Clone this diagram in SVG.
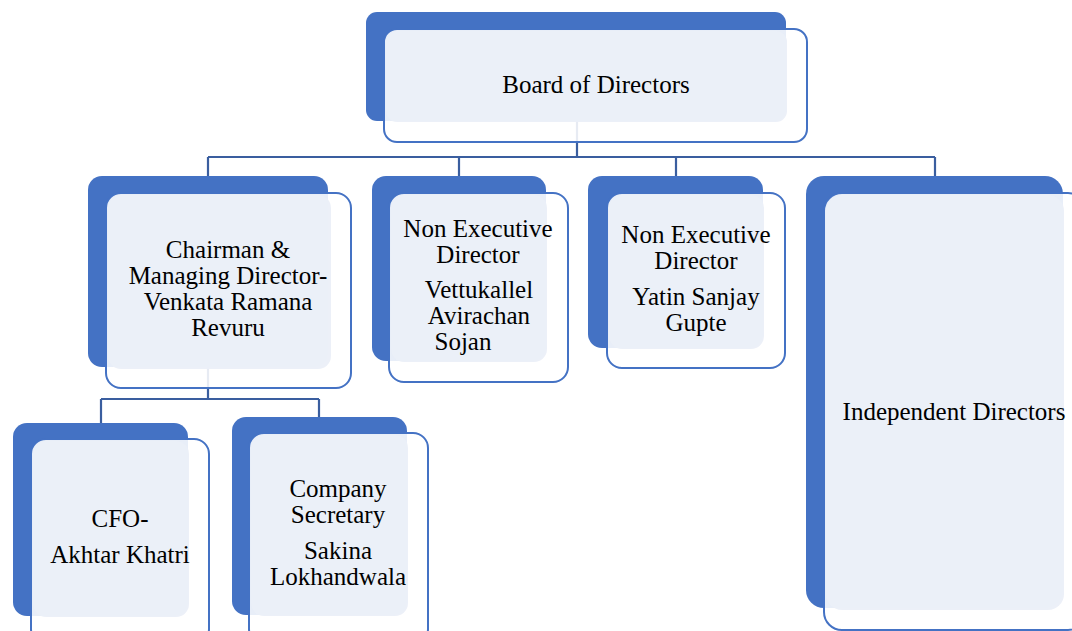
<svg xmlns="http://www.w3.org/2000/svg" width="1072" height="631" viewBox="0 0 1072 631">
<style>
.back{fill:#4472C4}
.front{fill:#FFFFFF;fill-opacity:0.88;stroke:#4472C4;stroke-width:2}
.lite{fill:#EBEFF8;fill-opacity:0.95}
.conn{fill:none;stroke:#3A5E9F;stroke-width:2.2}
text{font-family:"Liberation Serif","Times New Roman",serif;font-size:25px;fill:#000;text-anchor:middle}
</style>
<rect width="1072" height="631" fill="#FFFFFF"/>
<g id="connectors">
<path class="conn" d="M577,121 V157 M208,157 H935 M208,157 V176 M459,157 V176 M676,157 V176 M935,157 V176"/>
<path class="conn" d="M208,367 V399 M101,399 H319 M101,399 V423 M319,399 V417"/>
</g>
<g id="board">
<rect class="back" x="366" y="12" width="420" height="109" rx="11"/>
<rect class="front" x="384" y="29" width="423" height="113" rx="13"/>
<rect class="lite" x="386" y="31" width="401" height="91" rx="11"/>
<text x="596" y="93">Board of Directors</text>
</g>
<g id="chairman">
<rect class="back" x="88" y="176" width="240" height="191" rx="14"/>
<rect class="front" x="106" y="193" width="245" height="195" rx="15"/>
<rect class="lite" x="108" y="195" width="223" height="174" rx="13"/>
<text x="228" y="258">Chairman &amp;</text>
<text x="228" y="284">Managing Director-</text>
<text x="228" y="310">Venkata Ramana</text>
<text x="228" y="336">Revuru</text>
</g>
<g id="ned1">
<rect class="back" x="372" y="176" width="174" height="185" rx="14"/>
<rect class="front" x="389" y="193" width="179" height="189" rx="15"/>
<rect class="lite" x="391" y="195" width="156" height="167" rx="13"/>
<text x="478" y="237">Non Executive</text>
<text x="478" y="263">Director</text>
<text x="479" y="298">Vettukallel</text>
<text x="479" y="324">Avirachan</text>
<text x="463" y="350">Sojan</text>
</g>
<g id="ned2">
<rect class="back" x="588" y="176" width="175" height="172" rx="14"/>
<rect class="front" x="607" y="193" width="178" height="175" rx="15"/>
<rect class="lite" x="609" y="195" width="155" height="154" rx="13"/>
<text x="696" y="243">Non Executive</text>
<text x="696" y="269">Director</text>
<text x="696" y="305">Yatin Sanjay</text>
<text x="696" y="331">Gupte</text>
</g>
<g id="independent">
<rect class="back" x="806" y="176" width="257" height="432" rx="18"/>
<rect class="front" x="824" y="193" width="262" height="437" rx="18"/>
<rect class="lite" x="826" y="195" width="238" height="415" rx="16"/>
<text x="954" y="420">Independent Directors</text>
</g>
<g id="cfo">
<rect class="back" x="13" y="423" width="175" height="193" rx="14"/>
<rect class="front" x="31" y="439" width="178" height="205" rx="15"/>
<rect class="lite" x="33" y="441" width="156" height="176" rx="13"/>
<text x="120" y="527">CFO-</text>
<text x="120" y="563">Akhtar Khatri</text>
</g>
<g id="secretary">
<rect class="back" x="232" y="417" width="175" height="198" rx="14"/>
<rect class="front" x="249" y="433" width="179" height="211" rx="15"/>
<rect class="lite" x="251" y="435" width="157" height="181" rx="13"/>
<text x="338" y="497">Company</text>
<text x="338" y="523">Secretary</text>
<text x="338" y="559">Sakina</text>
<text x="338" y="585">Lokhandwala</text>
</g>
</svg>
